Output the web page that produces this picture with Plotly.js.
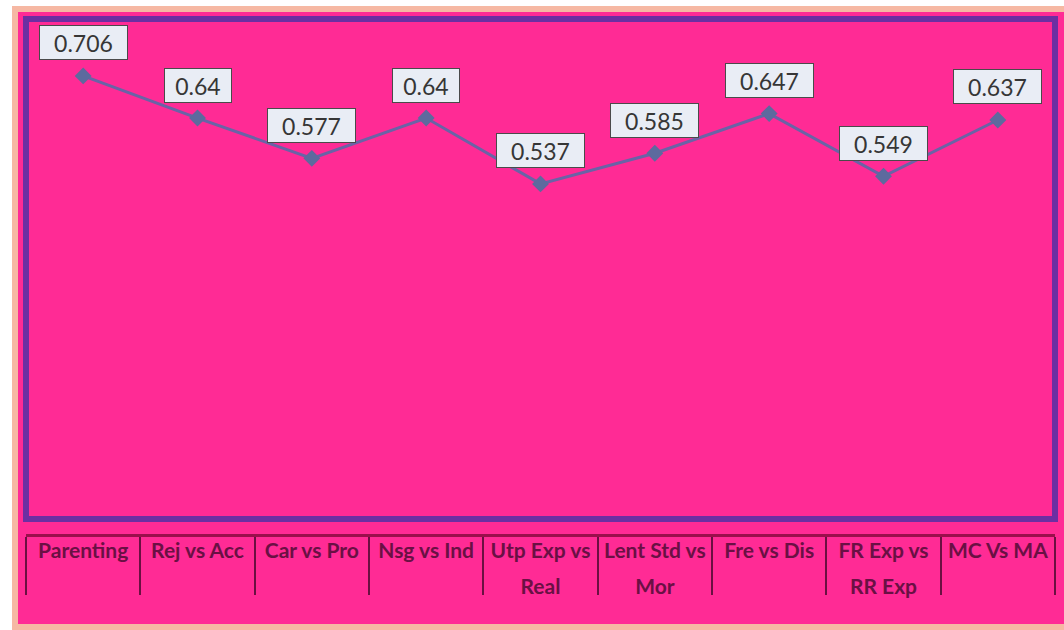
<!DOCTYPE html>
<html>
<head>
<meta charset="utf-8">
<script src="https://cdn.plot.ly/plotly-3.0.1.min.js"></script>
<style>
  html, body { margin: 0; padding: 0; background: #ffffff; }
  #wrap { position: absolute; left: 12px; top: 6px; width: 1046px; height: 612px;
          border: 6px solid #f6b8a3; border-right: none; }
  #chart { width: 1046px; height: 612px; }
</style>
</head>
<body>
<div id="wrap"><div id="chart"></div></div>
<script>
const categories = ["Parenting", "Rej vs Acc", "Car vs Pro", "Nsg vs Ind", "Utp Exp vs Real",
                    "Lent Std vs Mor", "Fre vs Dis", "FR Exp vs RR Exp", "MC Vs MA"];
const labelLine1 = ["Parenting", "Rej vs Acc", "Car vs Pro", "Nsg vs Ind", "Utp Exp vs",
                    "Lent Std vs", "Fre vs Dis", "FR Exp vs", "MC Vs MA"];
const labelLine2 = ["", "", "", "", "Real", "Mor", "", "RR Exp", ""];
const values = [0.706, 0.64, 0.577, 0.64, 0.537, 0.585, 0.647, 0.549, 0.637];
const valueLabels = ["0.706", "0.64", "0.577", "0.64", "0.537", "0.585", "0.647", "0.549", "0.637"];

const pink = "#ff2b95";
const purple = "#6c2fa2";
const labelFont = { family: "Lato, sans-serif", size: 21, color: "#6a1044", weight: "bold" };

const traces = [
  {
    x: categories, y: values, type: "scatter", mode: "lines+markers",
    line: { color: "#6a63a6", width: 3 },
    marker: { symbol: "diamond", size: 13, color: "#5d6a9e" },
    hoverinfo: "skip", showlegend: false, cliponaxis: false
  },
  {
    x: categories, y: values, type: "scatter", mode: "markers", xaxis: "x2", yaxis: "y",
    marker: { opacity: 0 }, hoverinfo: "skip", showlegend: false
  },
  {
    x: categories, y: values, type: "scatter", mode: "markers", xaxis: "x3", yaxis: "y",
    marker: { opacity: 0 }, hoverinfo: "skip", showlegend: false
  }
];

const annotations = categories.map((c, i) => ({
  x: c, y: values[i], xref: "x", yref: "y", text: valueLabels[i],
  showarrow: false, yshift: 33,
  bgcolor: "#e9edf5", bordercolor: "#4a4a4a", borderwidth: 1,
  width: 21 * valueLabels[i].length - 20, height: 31,
  font: { family: "Lato, sans-serif", size: 23, color: "#363636" }
}));

const layout = {
  width: 1046, height: 612,
  margin: { l: 8, r: 9, t: 7, b: 20 },
  paper_bgcolor: pink, plot_bgcolor: pink,
  showlegend: false,
  xaxis: {
    type: "category", categoryorder: "array", categoryarray: categories,
    range: [-0.5, 8.5], showticklabels: false, showgrid: false, zeroline: false,
    ticks: "", showline: false, fixedrange: true
  },
  xaxis2: {
    type: "category", categoryorder: "array", categoryarray: categories,
    overlaying: "x", anchor: "free", position: 0.118, side: "bottom",
    range: [-0.5, 8.5], showgrid: false, zeroline: false,
    showline: true, linecolor: "#9a0f4c", linewidth: 3,
    ticks: "outside", tickson: "boundaries", ticklen: 58, tickwidth: 2, tickcolor: "#6a1042",
    tickvals: categories, ticktext: labelLine1,
    ticklabelstandoff: -4,
    tickfont: labelFont
  },
  xaxis3: {
    type: "category", categoryorder: "array", categoryarray: categories,
    overlaying: "x", anchor: "free", position: 0.054, side: "bottom",
    range: [-0.5, 8.5], showgrid: false, zeroline: false,
    showline: false, ticks: "",
    tickvals: categories, ticktext: labelLine2,
    tickfont: labelFont
  },
  yaxis: {
    domain: [0.1453, 1], range: [0.0127, 0.795],
    showticklabels: false, showgrid: false, zeroline: false, ticks: "", showline: false
  },
  shapes: [{
    type: "rect", xref: "x domain", yref: "y domain", x0: 0, x1: 1, y0: 0, y1: 1,
    line: { color: purple, width: 6 }, layer: "below"
  }],
  annotations: annotations
};

Plotly.newPlot("chart", traces, layout, { displayModeBar: false, staticPlot: true });
</script>
</body>
</html>
